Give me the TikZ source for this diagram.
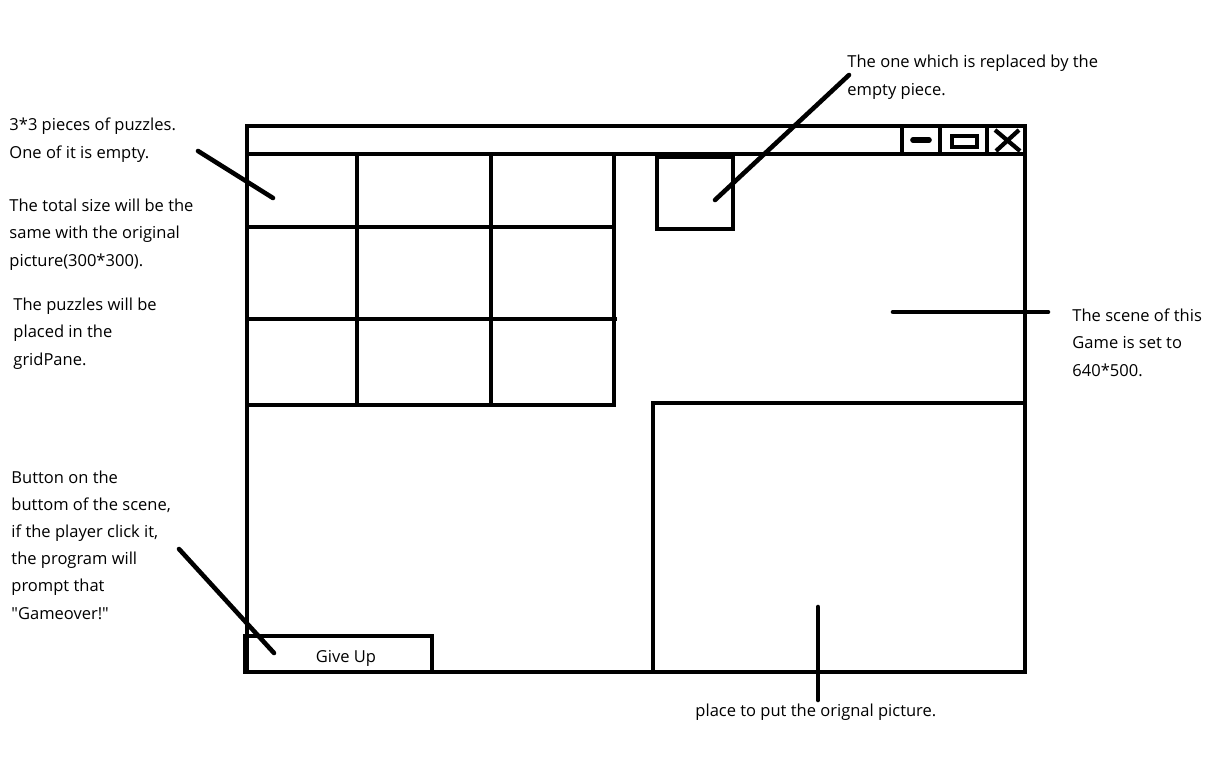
\documentclass[tikz,border=0pt]{standalone}
\usepackage{fontspec}
\setmainfont{Open Sans}[Ligatures=TeXOff]
\usepackage{tikz}

\begin{document}
\begin{tikzpicture}[x=0.02cm, y=-0.02cm, line width=2.8pt,
    note/.style={anchor=base west, align=left, inner sep=0pt,
        font=\fontsize{9.4}{15.4}\selectfont},
    leader/.style={line width=2.6pt, line cap=round}]
    \useasboundingbox (0,0) rectangle (1207,764);

    % window with title bar
    \draw (247,126) rectangle (1025,672);
    \draw (247,154) -- (1025,154);
    \draw (902,126) -- (902,154) (940,126) -- (940,154) (987,126) -- (987,154);
    \draw[line width=3.2pt, line cap=round] (913,140) -- (929,140);
    \draw[line width=2.4pt] (952,136) rectangle (977,147);
    \draw[line width=2.4pt] (995,130) -- (1020,151) (1019,130) -- (996,151);

    % 3x3 puzzle grid
    \draw (247,154) rectangle (614,405);
    \foreach \x in {357,491} \draw (\x,154) -- (\x,405);
    \draw (247,227) -- (614,227);
    \draw (245,319) -- (617,319);

    % empty piece and original picture
    \draw (657,157) rectangle (733,229);
    \draw (653,672) -- (653,403) -- (1025,403);

    % button
    \draw (245,636) rectangle (432,672);
    \node[font=\fontsize{9.4}{15.4}\selectfont] (giveup) at (346,658) {Give Up};

    % notes (anchored at last baseline)
    \node[note] (pieces) at (7,158) {3*3 pieces of puzzles.\\One of it is empty.};
    \node[note] (size) at (7,266) {The total size will be the\\same with the original\\picture(300*300).};
    \node[note] (grid) at (11,365) {The puzzles will be\\placed in the\\gridPane.};
    \node[note] (button) at (9,619) {Button on the\\buttom of the scene,\\if the player click it,\\the program will\\prompt that\\"Gameover!"};
    \node[note] (empty) at (845,95) {The one which is replaced by the\\empty piece.};
    \node[note] (scene) at (1070,376) {The scene of this\\Game is set to\\640*500.};
    \node[note] (orig) at (693,716) {place to put the orignal picture.};

    % leader lines
    \coordinate (p1) at (198,151); \coordinate (p2) at (273,198);
    \coordinate (b1) at (179,549); \coordinate (b2) at (274,653);
    \coordinate (e1) at (849,75);  \coordinate (e2) at (715,200);
    \coordinate (s1) at (1048,312); \coordinate (s2) at (893,312);
    \coordinate (o1) at (818,700); \coordinate (o2) at (818,607);
    \draw[leader] (p1) -- (p2);
    \draw[leader] (b1) -- (b2);
    \draw[leader] (e1) -- (e2);
    \draw[leader] (s1) -- (s2);
    \draw[leader] (o1) -- (o2);
\end{tikzpicture}
\end{document}
